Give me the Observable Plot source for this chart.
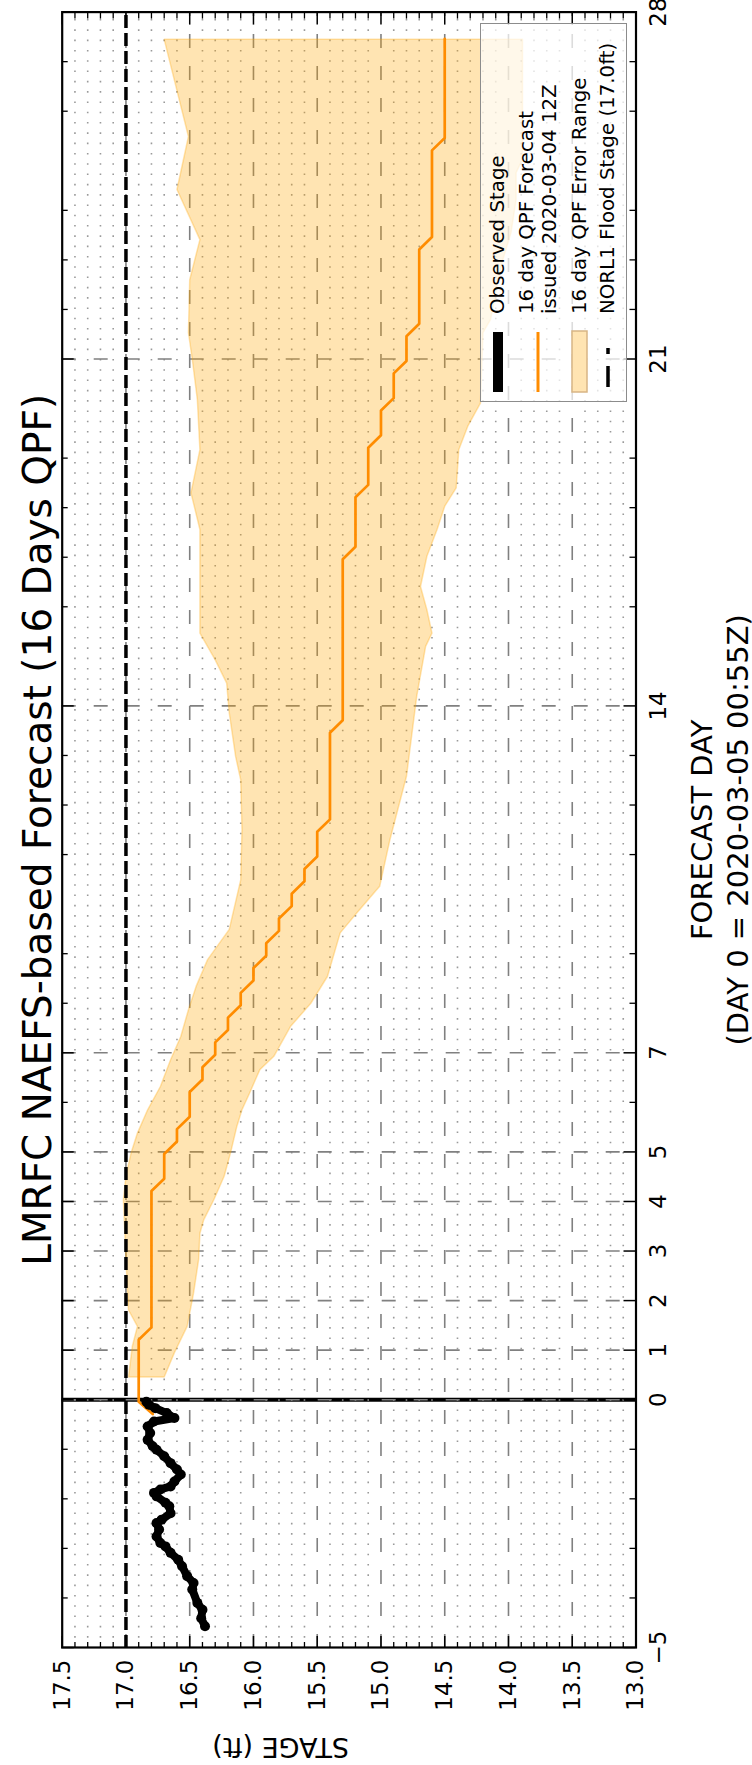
<!DOCTYPE html>
<html><head><meta charset="utf-8">
<script src="https://cdn.jsdelivr.net/npm/d3@7"></script>
<script src="https://cdn.jsdelivr.net/npm/@observablehq/plot@0.6"></script>
<style>
html,body{margin:0;padding:0;background:#fff;}
body{width:752px;height:1765px;overflow:hidden;position:relative;font-family:"DejaVu Sans",sans-serif;}
#wrap{position:absolute;left:0;top:0;width:1765px;height:752px;transform-origin:0 0;transform:translate(0px,1765px) rotate(-90deg);background:#fff;}
#legend{position:absolute;left:1363px;top:480px;width:379px;height:147px;box-sizing:border-box;border:1.6px solid #8c8c8c;background:rgba(255,255,255,0.72);}
#legend svg{position:absolute;left:0;top:0;overflow:visible;}
#legend text{font-family:"DejaVu Sans",sans-serif;font-size:19.8px;fill:#000;}
</style></head>
<body><div id="wrap"></div>
<script>
// ---------- data ----------
const titleText = "LMRFC NAEFS-based Forecast (16 Days QPF)";
const xLabel = "FORECAST DAY\n(DAY 0 = 2020-03-05 00:55Z)";
const yLabel = "STAGE (ft)";
const floodStage = 17.0;
const nowDay = 0;

const obsDay   = [-4.57,-4.41,-4.24,-4.10,-3.83,-3.70,-3.56,-3.36,-3.23,-3.09,-2.96,-2.89,-2.76,-2.62,-2.49,-2.42,-2.29,-2.15,-2.08,-1.95,-1.88,-1.81,-1.75,-1.65,-1.51,-1.41,-1.28,-1.14,-1.01,-0.94,-0.81,-0.67,-0.54,-0.44,-0.37,-0.27,-0.17,-0.10,-0.04];
const obsStage = [16.38,16.41,16.40,16.44,16.48,16.47,16.52,16.56,16.59,16.65,16.69,16.73,16.76,16.74,16.76,16.72,16.65,16.66,16.69,16.76,16.78,16.73,16.65,16.62,16.57,16.60,16.65,16.70,16.76,16.79,16.83,16.81,16.83,16.78,16.62,16.68,16.77,16.82,16.84];

const fcstDay   = [-0.29,-0.04,1.21,1.46,4.21,4.46,4.96,5.21,5.46,5.71,6.21,6.46,6.71,6.96,7.21,7.46,7.71,7.96,8.21,8.46,8.71,8.96,9.21,9.46,9.71,9.96,10.21,10.46,10.71,10.96,11.46,11.71,13.46,13.71,16.96,17.21,18.21,18.46,19.21,19.46,19.96,20.21,20.71,20.96,21.46,21.71,23.21,23.46,25.21,25.46,27.46];
const fcstStage = [16.79,16.90,16.90,16.80,16.80,16.70,16.70,16.60,16.60,16.50,16.50,16.40,16.40,16.30,16.30,16.20,16.20,16.10,16.10,16.00,16.00,15.90,15.90,15.80,15.80,15.70,15.70,15.60,15.60,15.50,15.50,15.40,15.40,15.30,15.30,15.20,15.20,15.10,15.10,15.00,15.00,14.90,14.90,14.80,14.80,14.70,14.70,14.60,14.60,14.50,14.50];

const bandHiDay   = [0.46,1.08,1.48,1.81,2.83,4.04,4.51,4.98,5.38,5.85,6.32,6.86,7.33,7.87,8.34,8.88,9.49,10.49,11.50,12.51,12.98,13.86,14.46,14.93,15.47,16.54,17.56,18.30,19.17,20.18,21.00,21.53,22.60,23.41,24.42,25.49,27.45];
const bandHiStage = [16.98,16.95,16.91,16.98,17.00,17.02,17.00,16.96,16.91,16.83,16.73,16.65,16.57,16.51,16.45,16.36,16.19,16.10,16.09,16.10,16.14,16.19,16.21,16.30,16.42,16.42,16.42,16.49,16.42,16.44,16.48,16.51,16.50,16.42,16.60,16.51,16.70];
const bandLoDay   = [0.46,0.95,1.48,2.15,2.83,3.36,3.63,4.04,4.51,4.98,5.52,5.85,6.19,6.66,6.93,7.53,8.00,8.54,9.42,9.82,10.36,11.30,12.58,14.19,15.20,15.47,15.94,16.41,17.02,17.56,18.03,18.40,19.17,19.64,20.11,21.53,21.80,22.87,23.55,24.22,24.76,25.03,27.45];
const bandLoStage = [16.70,16.62,16.52,16.47,16.43,16.42,16.39,16.31,16.23,16.18,16.13,16.09,16.03,15.95,15.84,15.71,15.55,15.42,15.32,15.19,15.01,14.93,14.80,14.72,14.65,14.60,14.64,14.69,14.64,14.56,14.50,14.41,14.39,14.32,14.22,14.20,14.14,14.06,13.98,13.94,13.94,13.89,13.89];

const dayTicks      = [-5,0,1,2,3,4,5,7,14,21,28];
const dayGrid       = [0,1,2,3,4,5,7,14,21];
const dayMinorTicks = [-4,-3,-2,-1,6,8,9,11,12,13,16,17,18,19,22,23,24,26,27];
const stageTicks    = [13.0,13.5,14.0,14.5,15.0,15.5,16.0,16.5,17.0,17.5];
const stageGrid     = [13.5,14.0,14.5,15.0,15.5,16.0,16.5,17.0];
const stageMinorTicks = d3.range(131, 175).filter(v => v % 5 !== 0).map(v => v / 10);

const legendItems = ["Observed Stage", "16 day QPF Forecast", "issued 2020-03-04 12Z", "16 day QPF Error Range", "NORL1 Flood Stage (17.0ft)"];

// ---------- tables built from arrays ----------
const obs  = obsDay.map((d, i) => ({day: d, stage: obsStage[i]}));
const fcst = fcstDay.map((d, i) => ({day: d, stage: fcstStage[i]}));
const hi = bandHiDay.map((d, i) => ({day: d, stage: bandHiStage[i]}));
const lo = bandLoDay.map((d, i) => ({day: d, stage: bandLoStage[i]}));
const band = [...hi, ...lo.slice().reverse(), hi[0]];

// ---------- layout (unrotated canvas, then rotated by CSS) ----------
const W = 1765, H = 752;
const mL = 117, mR = 12.6, mT = 61.7, mB = 116.5;
const fW = W - mL - mR, fH = H - mT - mB;
const majLen = 12, minLen = 6;
const fmtDay = d => d < 0 ? "\u2212" + (-d) : String(d);
const grey = "#808080";

const chart = Plot.plot({
  width: W, height: H,
  marginLeft: mL, marginRight: mR, marginTop: mT, marginBottom: mB,
  style: {fontFamily: "DejaVu Sans", background: "white", color: "black", overflow: "visible"},
  x: {domain: [-5, 28]},
  y: {domain: [13, 17.5]},
  marks: [
    Plot.ruleX([nowDay], {stroke: "black", strokeWidth: 4}),
    Plot.ruleY(stageMinorTicks, {stroke: "#9a9a9a", strokeWidth: 1.6, strokeDasharray: "1.6,8.7"}),
    Plot.ruleY(stageGrid, {stroke: grey, strokeWidth: 1.6, strokeDasharray: "14,18"}),
    Plot.ruleX(dayGrid, {stroke: grey, strokeWidth: 1.6, strokeDasharray: "14,18"}),
    Plot.line(band, {x: "day", y: "stage", fill: "#FFA500", fillOpacity: 0.3, stroke: "#FFA500", strokeOpacity: 0.3, strokeWidth: 1.5}),
    Plot.ruleY([floodStage], {stroke: "black", strokeWidth: 3.5, strokeDasharray: "13,5"}),
    Plot.line(fcst, {x: "day", y: "stage", stroke: "#FF8C00", strokeWidth: 2.7}),
    Plot.line(obs, {x: "day", y: "stage", stroke: "black", strokeWidth: 8, strokeLinejoin: "round", strokeLinecap: "round"}),
    Plot.dot(obs, {x: "day", y: "stage", r: 5, fill: "black"}),
    // inward ticks
    Plot.ruleX(dayTicks, {insetTop: fH - majLen, stroke: "black", strokeWidth: 1.5}),
    Plot.ruleX(dayTicks, {insetBottom: fH - majLen, stroke: "black", strokeWidth: 1.5}),
    Plot.ruleX(dayMinorTicks, {insetTop: fH - minLen, stroke: "black", strokeWidth: 1.3}),
    Plot.ruleX(dayMinorTicks, {insetBottom: fH - minLen, stroke: "black", strokeWidth: 1.3}),
    Plot.ruleY(stageTicks, {insetRight: fW - majLen, stroke: "black", strokeWidth: 1.5}),
    Plot.ruleY(stageTicks, {insetLeft: fW - majLen, stroke: "black", strokeWidth: 1.5}),
    Plot.ruleY(stageMinorTicks, {insetRight: fW - minLen, stroke: "black", strokeWidth: 1.3}),
    Plot.ruleY(stageMinorTicks, {insetLeft: fW - minLen, stroke: "black", strokeWidth: 1.3}),
    Plot.frame({stroke: "black", strokeWidth: 2.2}),
    Plot.axisX({ticks: dayTicks, tickSize: 0, tickPadding: 14, tickFormat: fmtDay, fontSize: 23, label: null}),
    Plot.axisY({ticks: stageTicks, tickSize: 0, tickPadding: 12, tickFormat: d3.format(".1f"), fontSize: 23, label: null}),
    Plot.text([titleText], {text: d => d, frameAnchor: "top", dy: -11.7, lineAnchor: "bottom", fontSize: 39}),
    Plot.text([xLabel], {text: d => d, frameAnchor: "bottom", dy: 50.9, lineAnchor: "top", fontSize: 29, lineHeight: 1.24}),
    Plot.text([yLabel], {text: d => d, frameAnchor: "left", dx: -(mL - 27), rotate: -90, lineAnchor: "bottom", fontSize: 27})
  ]
});

const wrap = document.getElementById("wrap");
wrap.appendChild(chart);

// ---------- legend ----------
const ns = "http://www.w3.org/2000/svg";
const leg = document.createElement("div");
leg.id = "legend";
const svg = document.createElementNS(ns, "svg");
svg.setAttribute("width", 379); svg.setAttribute("height", 147);
function el(tag, attrs) { const e = document.createElementNS(ns, tag); for (const k in attrs) e.setAttribute(k, attrs[k]); svg.appendChild(e); return e; }
el("line", {x1: 9, x2: 69, y1: 17, y2: 17, stroke: "black", "stroke-width": 10});
el("line", {x1: 9, x2: 69, y1: 57, y2: 57, stroke: "#FF8C00", "stroke-width": 3});
el("rect", {x: 9, y: 91, width: 61, height: 15, fill: "#FFE4B2", stroke: "#D8B585", "stroke-width": 1.5});
el("line", {x1: 14, x2: 53, y1: 127, y2: 127, stroke: "black", "stroke-width": 3.5, "stroke-dasharray": "21,12"});
const baselines = [23, 52, 75, 105, 133];
legendItems.forEach((t, i) => { const tx = el("text", {x: 87, y: baselines[i]}); tx.textContent = t; });
leg.appendChild(svg);
wrap.appendChild(leg);
</script>
</body></html>
